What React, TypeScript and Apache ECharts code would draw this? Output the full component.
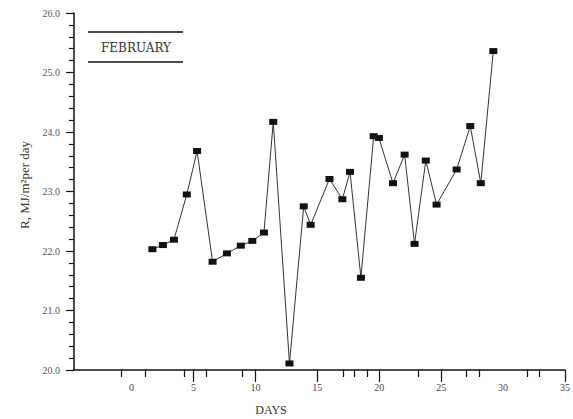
import React, { useEffect, useRef } from "react";
import * as echarts from "echarts";

const days = [1.68, 2.53, 3.42, 4.46, 5.29, 6.54, 7.70, 8.82, 9.75, 10.69, 11.44, 12.75, 13.90, 14.46, 15.98, 17.02, 17.64, 18.52, 19.55, 19.97, 21.11, 22.05, 22.85, 23.76, 24.63, 26.25, 27.35, 28.20, 29.21];
const radiation = [22.03, 22.10, 22.19, 22.95, 23.68, 21.82, 21.96, 22.09, 22.17, 22.31, 24.17, 20.11, 22.75, 22.44, 23.21, 22.87, 23.33, 21.55, 23.93, 23.90, 23.14, 23.62, 22.12, 23.52, 22.78, 23.37, 24.10, 23.14, 25.36];
const xLabelValues = [0, 5, 10, 15, 20, 25, 30, 35];
const xMajorTicks = [5, 10, 15, 20, 25, 35];
const xMinorTicks = [-0.86, 1.12, 4.27, 6.01, 8.93, 17.1, 17.99, 19.03, 23.12, 27.04, 28.08, 31.93, 32.89];
const legendTitle = "FEBRUARY";
const yTitle = "R, MJ/m²per day";
const xTitle = "DAYS";

export default function App() {
  const ref = useRef<HTMLDivElement>(null);
  useEffect(() => {
    if (!ref.current) return;
    const chart = echarts.init(ref.current, null, { renderer: "svg" });
    const font = "'Liberation Serif', 'Times New Roman', serif";
    const xMin = -4.65;
    const xMax = 35;
    chart.setOption({
      animation: false,
      backgroundColor: "#ffffff",
      grid: { left: 74, right: 4, top: 13, bottom: 49, containLabel: false },
      xAxis: [
        {
          type: "value",
          min: xMin,
          max: xMax,
          splitLine: { show: false },
          axisLine: { show: true, onZero: false, lineStyle: { color: "#111", width: 1.5 } },
          axisTick: { show: true, length: 12, customValues: xMajorTicks, lineStyle: { color: "#111", width: 1.2 } },
          axisLabel: {
            show: true,
            customValues: xLabelValues,
            formatter: (v: number) => String(v),
            fontSize: 10,
            color: "#444",
            fontFamily: font,
            margin: 12,
          },
        },
        {
          type: "value",
          min: xMin,
          max: xMax,
          position: "bottom",
          splitLine: { show: false },
          axisLine: { show: false, onZero: false },
          axisTick: { show: true, length: 7, customValues: xMinorTicks, lineStyle: { color: "#111", width: 1.2 } },
          axisLabel: { show: false },
        },
      ],
      yAxis: {
        type: "value",
        min: 20,
        max: 26,
        interval: 1,
        splitLine: { show: false },
        axisLine: { show: true, onZero: false, lineStyle: { color: "#111", width: 1.5 } },
        axisTick: { show: true, length: 8, lineStyle: { color: "#111", width: 1.2 } },
        minorTick: { show: true, splitNumber: 5, length: 5, lineStyle: { color: "#111", width: 1.2 } },
        axisLabel: {
          formatter: (v: number) => v.toFixed(1),
          fontSize: 10,
          color: "#555",
          fontFamily: font,
          margin: 14,
        },
      },
      series: [
        {
          type: "line",
          xAxisIndex: 0,
          data: days.map((d, i) => [d, radiation[i]]),
          symbol: "rect",
          symbolSize: [8, 6],
          itemStyle: { color: "#111" },
          lineStyle: { color: "#333", width: 1 },
        },
      ],
      graphic: [
        { type: "line", shape: { x1: 88, y1: 32, x2: 183, y2: 32 }, style: { stroke: "#111", lineWidth: 1.5 } },
        { type: "line", shape: { x1: 88, y1: 62, x2: 183, y2: 62 }, style: { stroke: "#111", lineWidth: 1.5 } },
        {
          type: "text",
          x: 136,
          y: 48,
          style: { text: legendTitle, fontSize: 12, fontFamily: "'DejaVu Serif', serif", fill: "#333", align: "center", verticalAlign: "middle" },
        },
        {
          type: "text",
          x: 24,
          y: 185,
          rotation: Math.PI / 2,
          style: { text: yTitle, fontSize: 13, fontFamily: font, fill: "#333", align: "center", verticalAlign: "middle" },
        },
        {
          type: "text",
          x: 271,
          y: 410,
          style: { text: xTitle, fontSize: 12, fontFamily: font, fill: "#333", align: "center", verticalAlign: "middle" },
        },
      ],
    });
    return () => chart.dispose();
  }, []);
  return <div ref={ref} style={{ position: "absolute", left: 0, top: 0, width: 573, height: 419 }} />;
}
